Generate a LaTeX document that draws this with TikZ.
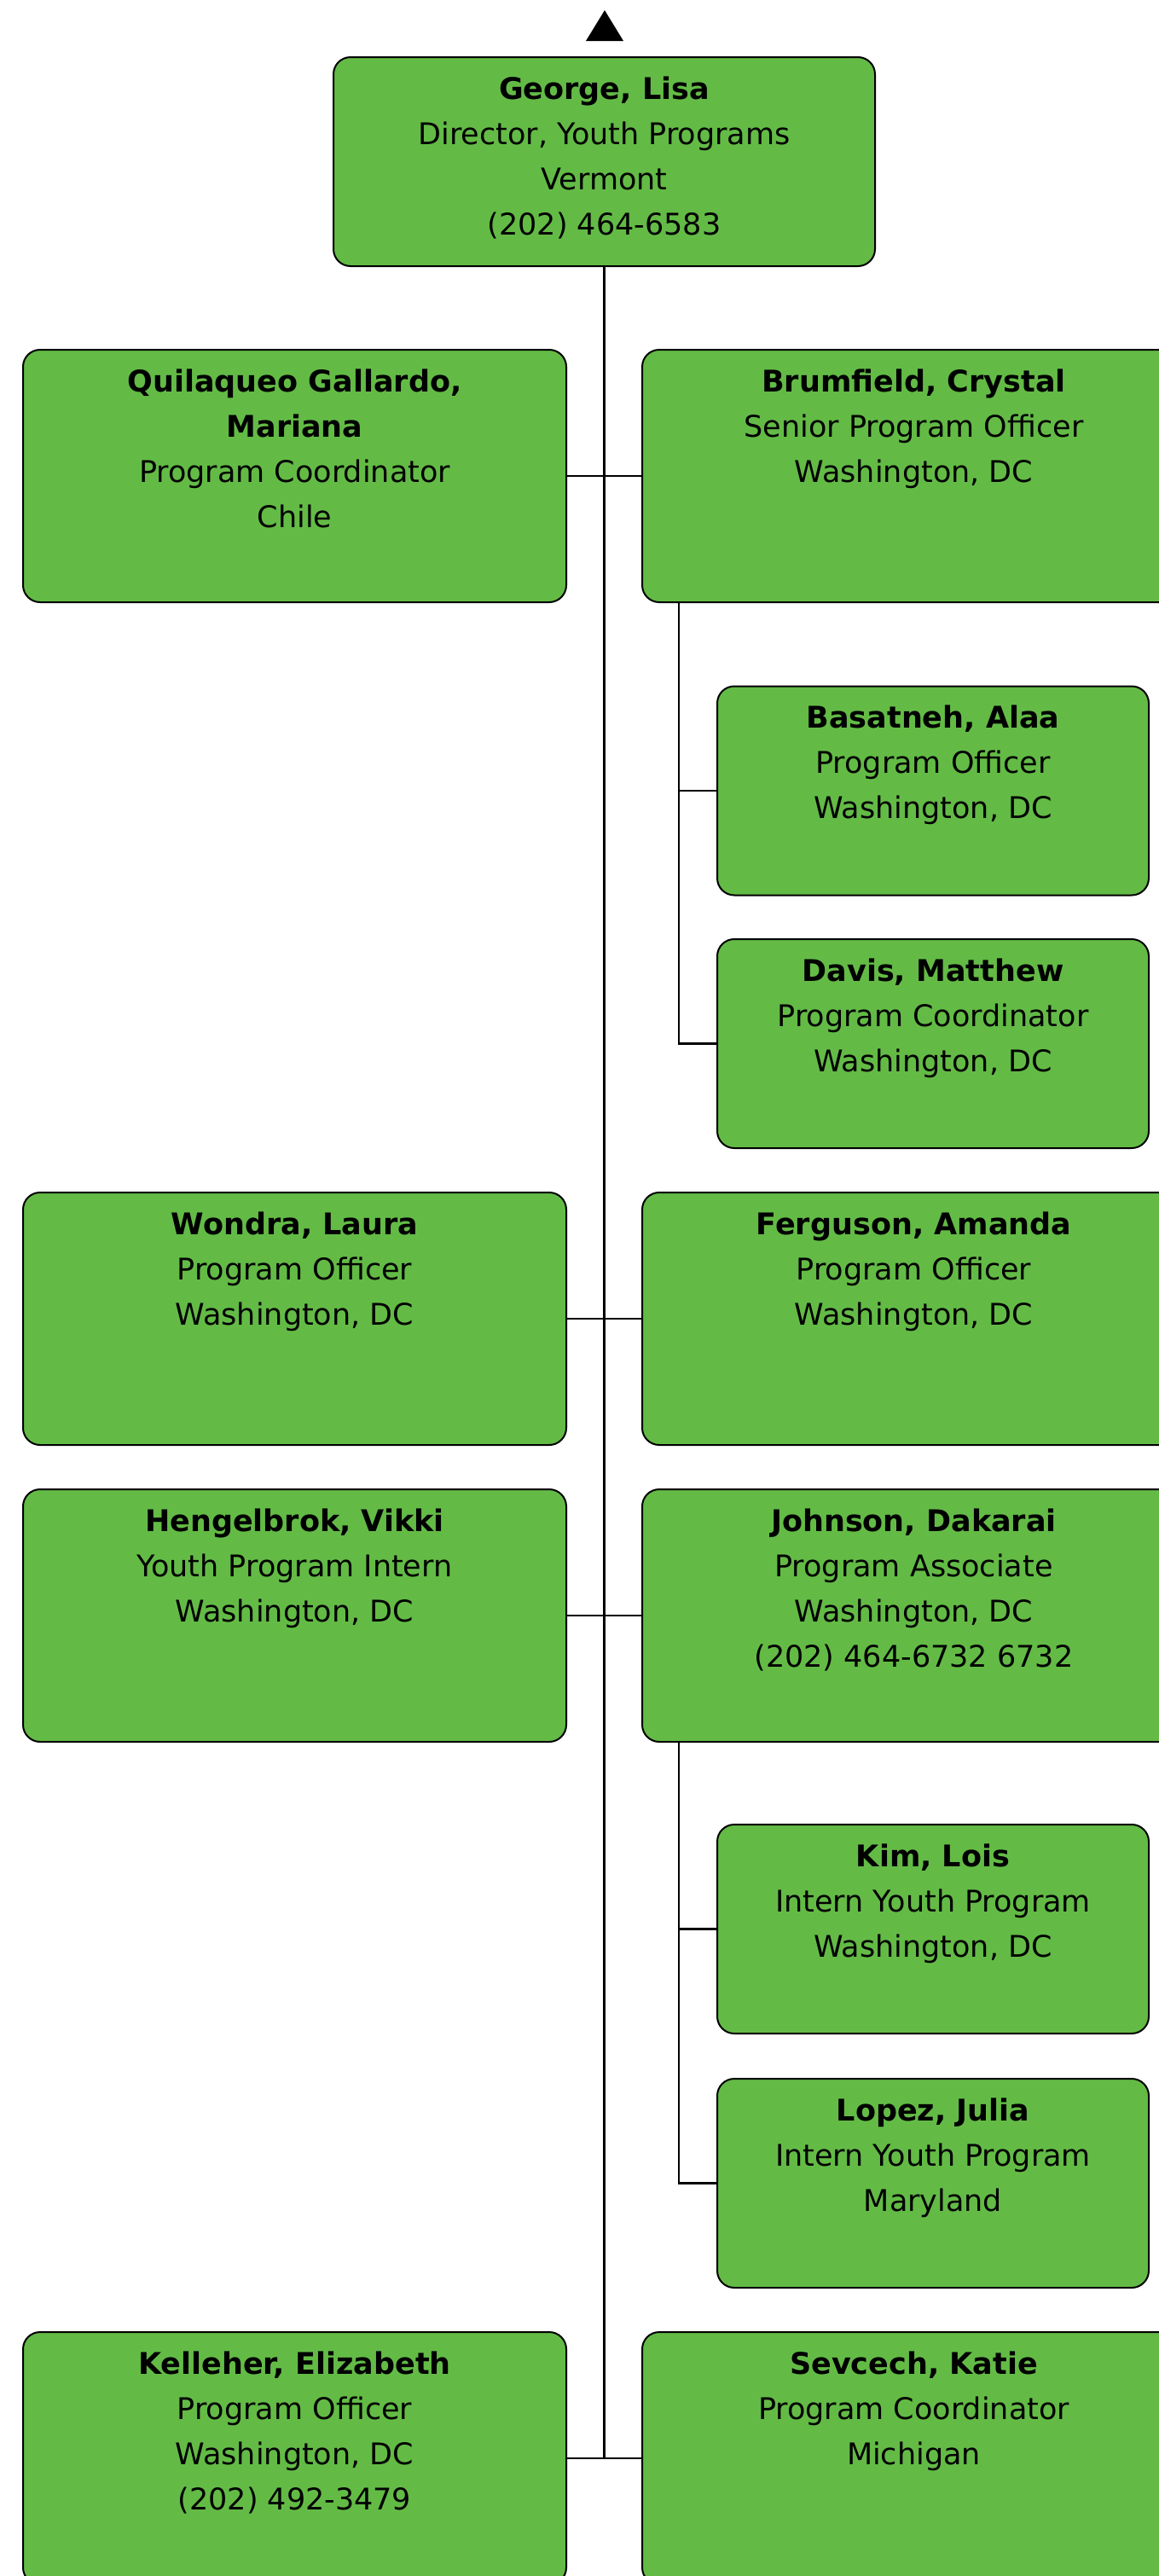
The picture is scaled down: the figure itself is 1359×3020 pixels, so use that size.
\documentclass[tikz,border=0pt]{standalone}
\usepackage{fontspec}
\setmainfont{DejaVu Sans}
\definecolor{boxgreen}{RGB}{99,187,70}
\newcommand{\card}[3]{\parbox[c][#2][t]{#1}{\centering\vspace*{6pt}\strut #3}}
\tikzset{
  person/.style={draw=black, line width=1pt, fill=boxgreen, rounded corners=10pt, inner sep=0pt,
    font=\fontsize{17.5}{26.5}\selectfont},
  link/.style={draw=black, line width=1.2pt}
}
\begin{document}
\begin{tikzpicture}[x=0.5pt,y=-0.5pt]
\useasboundingbox[fill=white] (0,0) rectangle (1359,3020);
% marker above the top box
\fill[black] (687,48) -- (709,12) -- (731,48) -- cycle;

\node[person] (george) at (708.5,189.5) {\card{317.5pt}{122.5pt}{\textbf{George, Lisa}\\Director, Youth Programs\\Vermont\\(202) 464-6583}};

\node[person] (quil) at (345.5,558) {\card{318.5pt}{148pt}{\textbf{Quilaqueo Gallardo,}\\\textbf{Mariana}\\Program Coordinator\\Chile}};
\node[person] (brum) at (1071.5,558) {\card{318.5pt}{148pt}{\textbf{Brumfield, Crystal}\\Senior Program Officer\\Washington, DC}};

\node[person] (basat) at (1094,927) {\card{253pt}{122.5pt}{\textbf{Basatneh, Alaa}\\Program Officer\\Washington, DC}};
\node[person] (davis) at (1094,1223.5) {\card{253pt}{122.5pt}{\textbf{Davis, Matthew}\\Program Coordinator\\Washington, DC}};

\node[person] (wondra) at (345.5,1546) {\card{318.5pt}{148pt}{\textbf{Wondra, Laura}\\Program Officer\\Washington, DC}};
\node[person] (ferg) at (1071.5,1546) {\card{318.5pt}{148pt}{\textbf{Ferguson, Amanda}\\Program Officer\\Washington, DC}};

\node[person] (heng) at (345.5,1894) {\card{318.5pt}{148pt}{\textbf{Hengelbrok, Vikki}\\Youth Program Intern\\Washington, DC}};
\node[person] (john) at (1071.5,1894) {\card{318.5pt}{148pt}{\textbf{Johnson, Dakarai}\\Program Associate\\Washington, DC\\(202) 464-6732 6732}};

\node[person] (kim) at (1094,2261.5) {\card{253pt}{122.5pt}{\textbf{Kim, Lois}\\Intern Youth Program\\Washington, DC}};
\node[person] (lopez) at (1094,2559.5) {\card{253pt}{122.5pt}{\textbf{Lopez, Julia}\\Intern Youth Program\\Maryland}};

\node[person] (kell) at (345.5,2882) {\card{318.5pt}{148pt}{\textbf{Kelleher, Elizabeth}\\Program Officer\\Washington, DC\\(202) 492-3479}};
\node[person] (sev) at (1071.5,2882) {\card{318.5pt}{148pt}{\textbf{Sevcech, Katie}\\Program Coordinator\\Michigan}};

% trunk
\coordinate (tend) at (george.south |- kell.east);
\draw[link] (george.south) -- (tend);
\draw[link] (quil.east) -- (brum.west);
\draw[link] (wondra.east) -- (ferg.west);
\draw[link] (heng.east) -- (john.west);
\draw[link] (kell.east) -- (sev.west);

% sub-trunks
\coordinate (bt) at ([xshift=22pt]brum.south west);
\draw[link] (bt) |- (basat.west);
\draw[link] (bt) |- (davis.west);
\coordinate (jt) at ([xshift=22pt]john.south west);
\draw[link] (jt) |- (kim.west);
\draw[link] (jt) |- (lopez.west);
\end{tikzpicture}
\end{document}
